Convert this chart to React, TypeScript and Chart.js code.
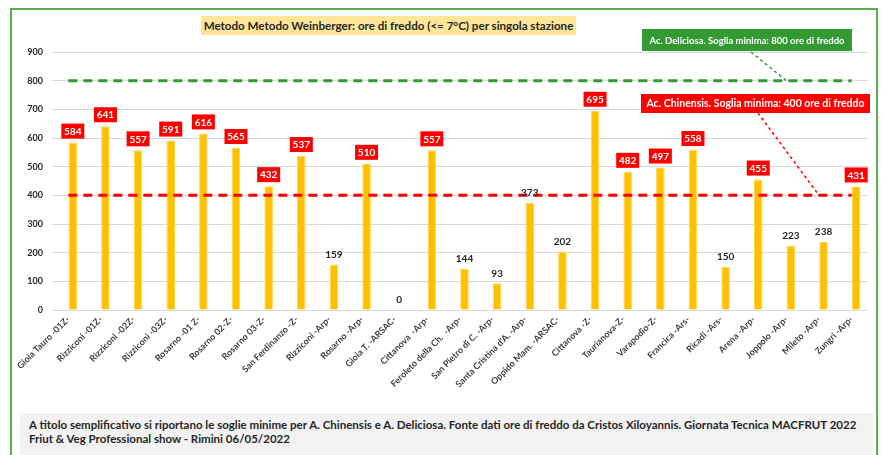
import React, { useEffect, useRef } from "react";
import { Chart, registerables } from "chart.js";

Chart.register(...registerables);

const CATEGORIES = [
  "Gioia Tauro -01Z-",
  "Rizziconi -01Z-",
  "Rizziconi -02Z-",
  "Rizziconi -03Z-",
  "Rosarno -01 Z-",
  "Rosarno 02-Z-",
  "Rosarno 03-Z-",
  "San Ferdinanzo -Z-",
  "Rizziconi -Arp-",
  "Rosarno -Arp-",
  "Gioia T. -ARSAC-",
  "Cittanova  -Arp-",
  "Feroleto della Ch.  -Arp-",
  "San Pietro di C. -Arp-",
  "Santa Cristina d'A. -Arp-",
  "Oppido Mam. -ARSAC-",
  "Cittanova -Z-",
  "Taurianova-Z-",
  "Varapodio-Z-",
  "Francica -Ars-",
  "Ricadi -Ars-",
  "Arena -Arp-",
  "Joppolo -Arp-",
  "Mileto -Arp-",
  "Zungri -Arp-",
];

const ORE_FREDDO = [584, 641, 557, 591, 616, 565, 432, 537, 159, 510, 0, 557, 144, 93, 373, 202, 695, 482, 497, 558, 150, 455, 223, 238, 431];
const SECONDA_SERIE = [1, null, null, null, null, null, null, null, null, null, null, null, null, null, null, null, null, null, null, null, null, null, null, null, null];

const DELICIOSA_MIN = 800;
const CHINENSIS_MIN = 400;
const Y_TICKS = [0, 100, 200, 300, 400, 500, 600, 700, 800, 900];

const TITLE = "Metodo Metodo Weinberger: ore di freddo (<= 7°C) per singola stazione";
const DELICIOSA_LABEL = "Ac. Deliciosa. Soglia minima: 800 ore di freddo";
const CHINENSIS_LABEL = "Ac. Chinensis. Soglia minima: 400 ore di freddo";
const FOOTER_1 = "A titolo semplificativo si riportano le soglie minime per A. Chinensis e A. Deliciosa. Fonte dati ore di freddo da Cristos Xiloyannis. Giornata Tecnica MACFRUT 2022";
const FOOTER_2 = "Friut & Veg Professional show - Rimini 06/05/2022";

const FONT = "Lato, 'Open Sans', sans-serif";

const annotationPlugin = {
  id: "annotationsAndLabels",
  afterDatasetsDraw(chart: any) {
    const ctx = chart.ctx as CanvasRenderingContext2D;
    const xs = chart.scales.x;
    const ys = chart.scales.y;

    // value labels on the orange bars (dataset index 1)
    const meta = chart.getDatasetMeta(1);
    ctx.save();
    ctx.font = `bold 10px ${FONT}`;
    ctx.textAlign = "center";
    ctx.textBaseline = "middle";
    meta.data.forEach((bar: any, i: number) => {
      const v = ORE_FREDDO[i];
      const label = String(v);
      if (v >= CHINENSIS_MIN) {
        const w = 23, h = 15;
        const bottom = bar.y - 4;
        ctx.fillStyle = "#FF0000";
        ctx.fillRect(bar.x - w / 2, bottom - h, w, h);
        ctx.fillStyle = "#FFFFFF";
        ctx.fillText(label, bar.x, bottom - h / 2 + 0.5);
      } else {
        ctx.fillStyle = "#262626";
        ctx.fillText(label, bar.x, bar.y - 10);
      }
    });
    ctx.restore();

    const drawBox = (text: string, x0: number, y0: number, x1: number, y1: number, fill: string, size: number) => {
      ctx.save();
      ctx.fillStyle = fill;
      ctx.fillRect(x0, y0, x1 - x0, y1 - y0);
      ctx.fillStyle = "#FFFFFF";
      ctx.font = `bold ${size}px ${FONT}`;
      ctx.textAlign = "center";
      ctx.textBaseline = "middle";
      ctx.fillText(text, (x0 + x1) / 2, (y0 + y1) / 2 + 0.5);
      ctx.restore();
    };
    const drawLeader = (x0: number, y0: number, x1: number, y1: number, color: string) => {
      ctx.save();
      ctx.strokeStyle = color;
      ctx.lineWidth = 1.5;
      ctx.setLineDash([3, 3]);
      ctx.beginPath();
      ctx.moveTo(x0, y0);
      ctx.lineTo(x1, y1);
      ctx.stroke();
      ctx.restore();
    };

    drawLeader(751, 52, xs.getPixelForValue(22), ys.getPixelForValue(DELICIOSA_MIN), "#339933");
    drawLeader(758, 113, xs.getPixelForValue(23), ys.getPixelForValue(CHINENSIS_MIN), "#FF0000");
    drawBox(DELICIOSA_LABEL, 642, 29, 852, 51, "#339933", 9.5);
    drawBox(CHINENSIS_LABEL, 641, 94, 870, 113, "#FF0000", 10.5);
  },
};

export default function App() {
  const canvasRef = useRef<HTMLCanvasElement | null>(null);

  useEffect(() => {
    const canvas = canvasRef.current;
    if (!canvas) return;
    const chart = new Chart(canvas, {
      type: "bar",
      data: {
        labels: CATEGORIES,
        datasets: [
          {
            type: "line",
            label: "Deliciosa",
            data: [
              { x: CATEGORIES[0], y: DELICIOSA_MIN },
              { x: CATEGORIES[CATEGORIES.length - 1], y: DELICIOSA_MIN },
            ] as any,
            borderColor: "#339933",
            borderWidth: 3,
            borderDash: [9, 6],
            pointRadius: 0,
            fill: false,
            order: 0,
          } as any,
          {
            type: "bar",
            label: "Ore di freddo",
            data: ORE_FREDDO,
            backgroundColor: "#FFC000",
            borderColor: "#FFD44F",
            borderWidth: 1,
            categoryPercentage: 0.55,
            barPercentage: 0.95,
            order: 2,
          },
          {
            type: "line",
            label: "Chinensis",
            data: [
              { x: CATEGORIES[0], y: CHINENSIS_MIN },
              { x: CATEGORIES[CATEGORIES.length - 1], y: CHINENSIS_MIN },
            ] as any,
            borderColor: "#FF0000",
            borderWidth: 3,
            borderDash: [9, 6],
            pointRadius: 0,
            fill: false,
            order: 0,
          } as any,
          {
            type: "bar",
            label: "Serie 2",
            data: SECONDA_SERIE,
            backgroundColor: "#8FAADC",
            borderColor: "#8FAADC",
            borderWidth: 1,
            categoryPercentage: 0.55,
            barPercentage: 0.95,
            order: 1,
          },
        ],
      },
      options: {
        animation: false,
        responsive: false,
        maintainAspectRatio: false,
        layout: { padding: { left: 10, right: 13, top: 52, bottom: 45 } },
        plugins: {
          legend: { display: false },
          tooltip: { enabled: false },
          title: { display: false },
        },
        scales: {
          x: {
            grid: { display: false, drawTicks: false },
            border: { display: false },
            ticks: {
              minRotation: 45,
              maxRotation: 45,
              autoSkip: false,
              padding: 4,
              color: "#404040",
              font: { family: FONT, size: 9, weight: "bold" },
            },
            afterFit: (s: any) => {
              s.height = 100;
            },
          },
          y: {
            min: 0,
            max: 900,
            afterBuildTicks: (s: any) => {
              s.ticks = Y_TICKS.map((v) => ({ value: v }));
            },
            grid: { color: "#D9D9D9", lineWidth: 1, drawTicks: false },
            border: { display: false },
            ticks: {
              padding: 9,
              color: "#262626",
              font: { family: FONT, size: 9, weight: "bold" },
            },
            afterFit: (s: any) => {
              s.width = 42;
            },
          },
        },
      },
      plugins: [annotationPlugin],
    });
    return () => chart.destroy();
  }, []);

  return (
    <div
      style={{
        position: "fixed",
        left: 0,
        top: 0,
        width: 881,
        height: 455,
        overflow: "hidden",
        background: "#FFFFFF",
        fontFamily: FONT,
      }}
    >
      <div
        style={{
          position: "absolute",
          left: 10,
          top: 8,
          width: 868,
          height: 480,
          border: "2px solid #5AAE52",
          boxSizing: "border-box",
        }}
      />
      <canvas ref={canvasRef} width={881} height={455} style={{ position: "absolute", left: 0, top: 0 }} />
      <div
        style={{
          position: "absolute",
          left: 201,
          top: 16,
          width: 375,
          height: 19,
          background: "#FFE699",
          color: "#262626",
          fontWeight: "bold",
          fontSize: 11.6,
          lineHeight: "19px",
          textAlign: "center",
          whiteSpace: "nowrap",
        }}
      >
        {TITLE}
      </div>
      <div
        style={{
          position: "absolute",
          left: 20,
          top: 413,
          width: 853,
          height: 60,
          background: "#F2F2F2",
          color: "#262626",
          fontWeight: "bold",
          fontSize: 11.5,
          lineHeight: "14px",
          paddingLeft: 9,
          paddingTop: 5,
          boxSizing: "border-box",
          whiteSpace: "nowrap",
        }}
      >
        <div>{FOOTER_1}</div>
        <div>{FOOTER_2}</div>
      </div>
    </div>
  );
}
